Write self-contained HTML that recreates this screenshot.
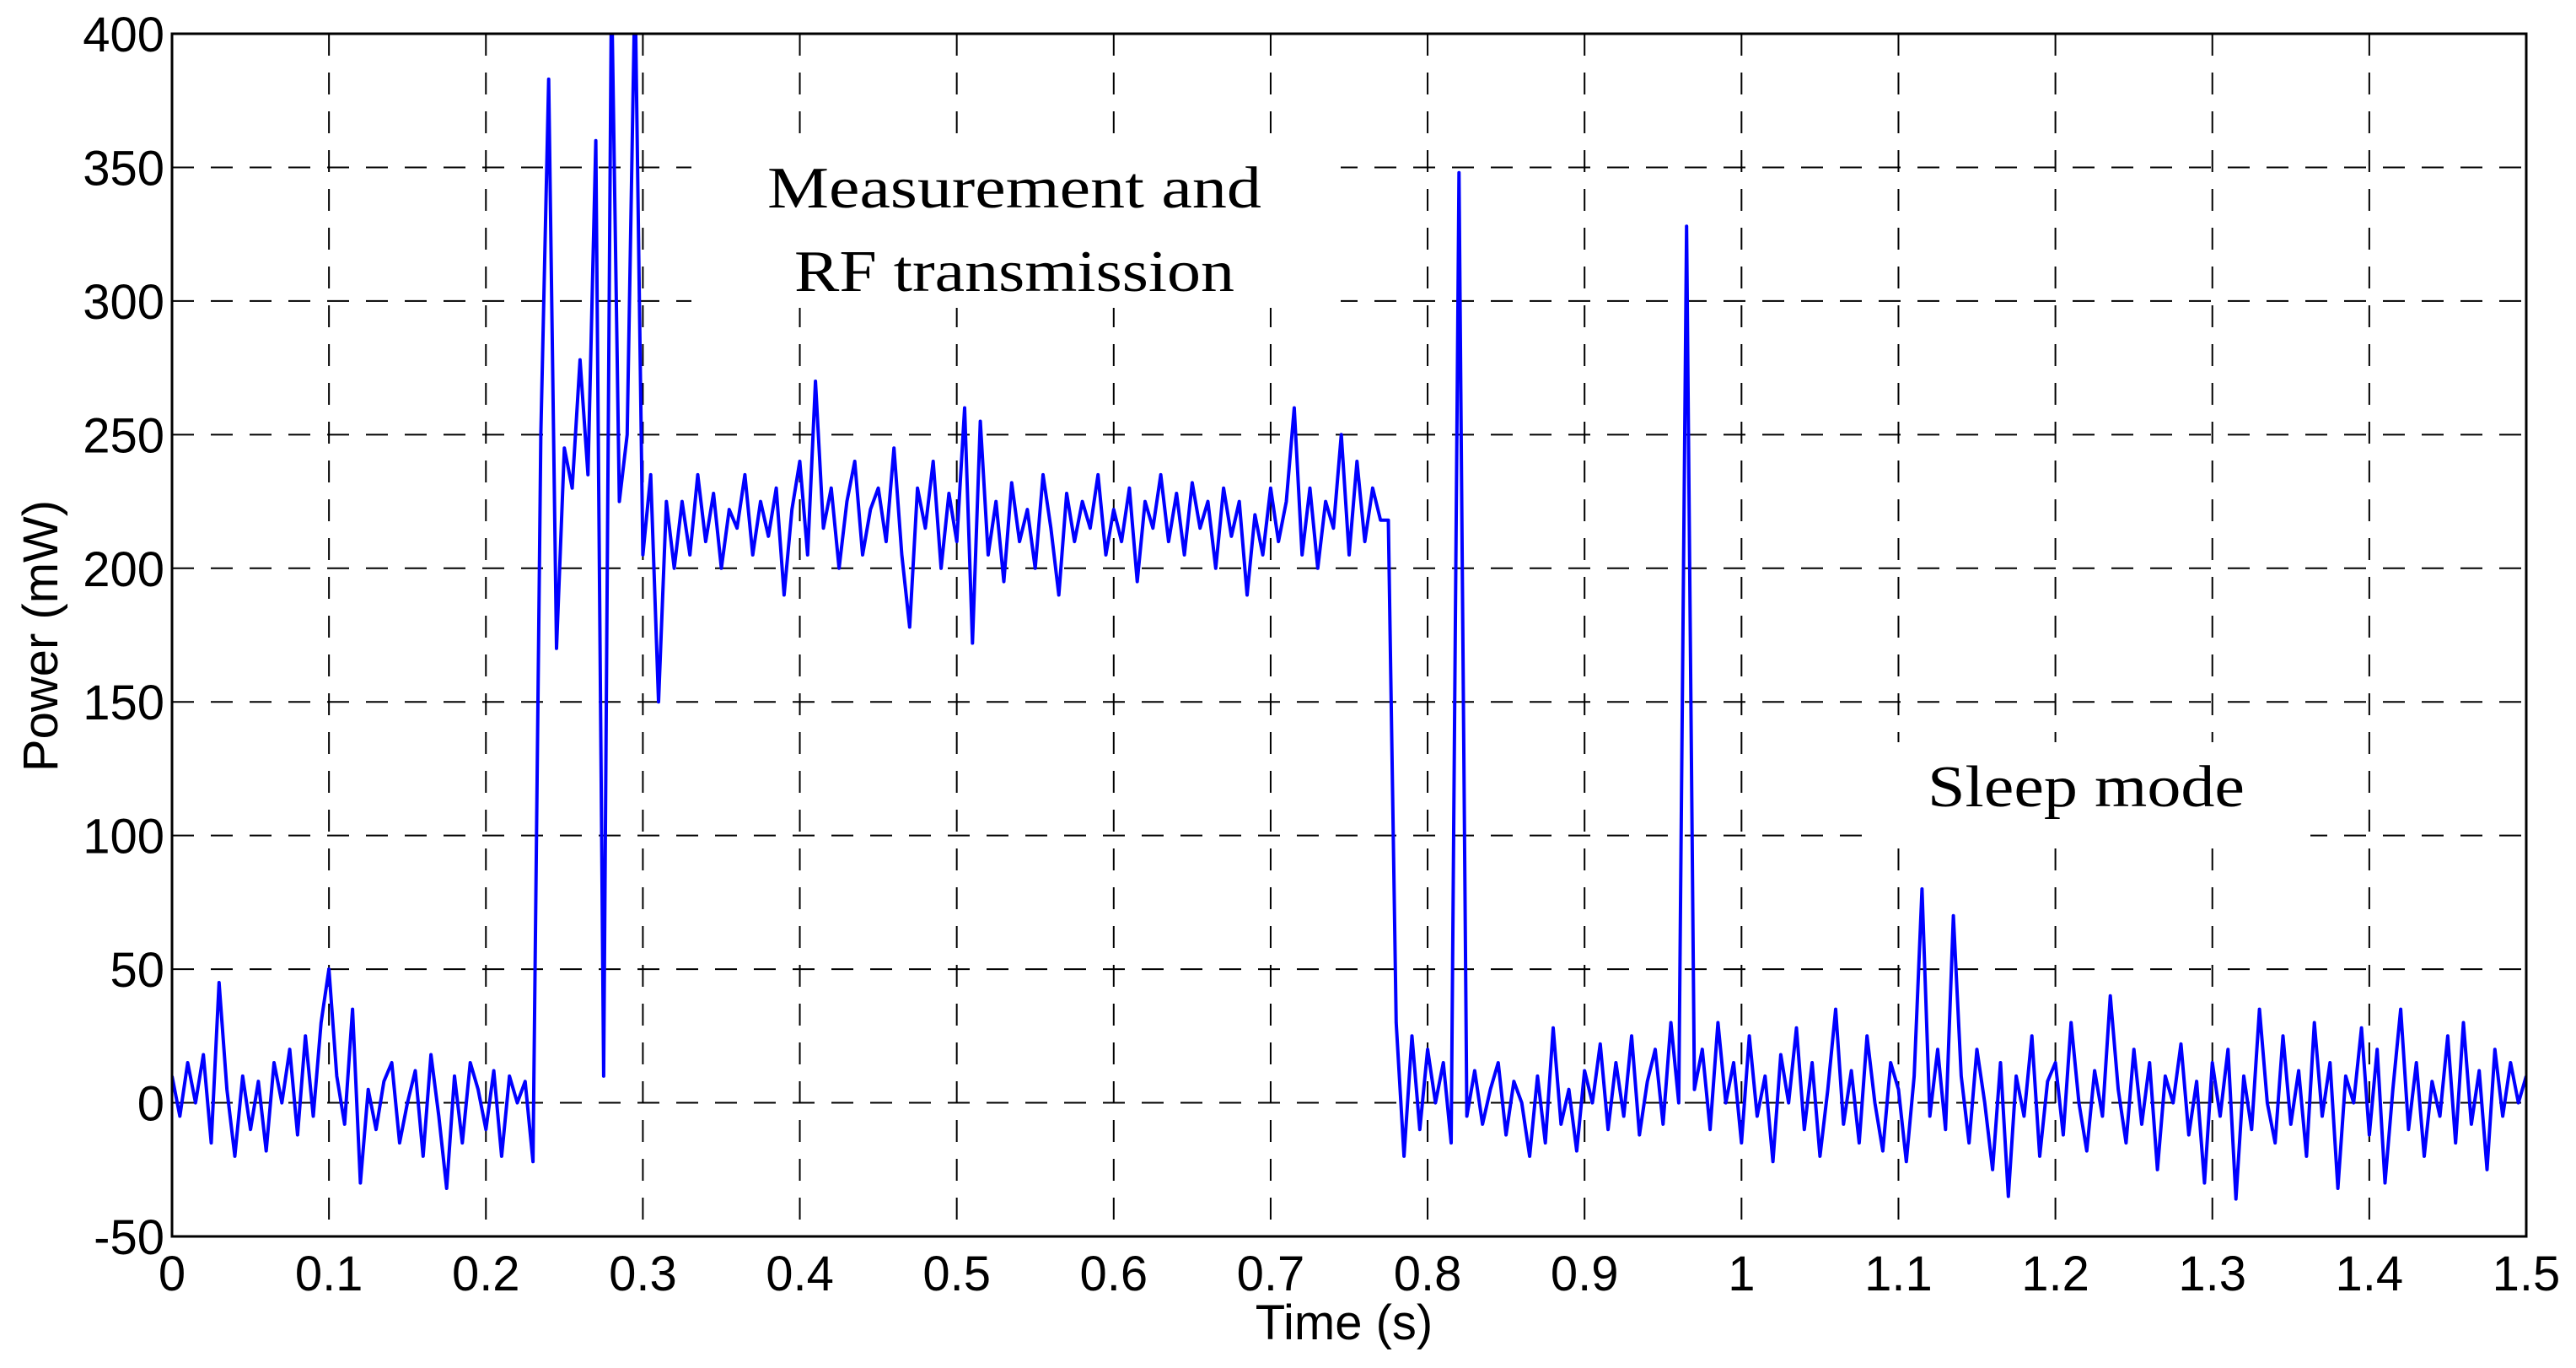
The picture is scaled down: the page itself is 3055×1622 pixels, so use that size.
<!DOCTYPE html>
<html><head><meta charset="utf-8"><style>html,body{margin:0;padding:0;background:#fff}svg{display:block}</style></head>
<body>
<svg id="chart" width="3055" height="1622" viewBox="0 0 3055 1622" xmlns="http://www.w3.org/2000/svg">
<defs><clipPath id="clip"><rect x="204" y="40" width="2792" height="1426"/></clipPath></defs>
<g id="grid"></g>
<g id="ticks"></g>
<rect x="820" y="175" width="770" height="190" fill="#fff"/>
<rect x="2220" y="880" width="520" height="115" fill="#fff"/>
<path id="line" fill="none" stroke="#0000ff" stroke-width="4" stroke-linejoin="round" clip-path="url(#clip)"/>
<rect x="204" y="40" width="2792" height="1426" fill="none" stroke="#000" stroke-width="3"/>
<g font-family="'Liberation Serif', serif" font-size="70" text-anchor="middle" fill="#000">
<text x="1203" y="246" textLength="586" lengthAdjust="spacingAndGlyphs">Measurement and</text>
<text x="1203" y="345" textLength="522" lengthAdjust="spacingAndGlyphs">RF transmission</text>
<text x="2474" y="956" textLength="376" lengthAdjust="spacingAndGlyphs">Sleep mode</text>
</g>
<g font-family="'Liberation Sans', sans-serif" font-size="58" fill="#000" text-anchor="middle">
<text x="1594" y="1588">Time (s)</text>
<text transform="translate(68,754) rotate(-90)">Power (mW)</text>
</g>
</svg>
<script>
const xTicks=[0,0.1,0.2,0.3,0.4,0.5,0.6,0.7,0.8,0.9,1,1.1,1.2,1.3,1.4,1.5];
const xTickLabels=["0","0.1","0.2","0.3","0.4","0.5","0.6","0.7","0.8","0.9","1","1.1","1.2","1.3","1.4","1.5"];
const yTicks=[-50,0,50,100,150,200,250,300,350,400];
const yTickLabels=["-50","0","50","100","150","200","250","300","350","400"];
const dt=0.005;
const power=[10,-5,15,0,18,-15,45,5,-20,10,-10,8,-18,15,0,20,-12,25,-5,30,50,10,-8,35,-30,5,-10,8,15,-15,0,12,-20,18,-5,-32,10,-15,15,5,-10,12,-20,10,0,8,-22,
250,383,170,245,230,278,235,360,10,420,225,250,420,205,235,150,225,200,
225,205,235,210,228,200,222,215,235,205,225,212,230,190,222,240,205,270,215,230,200,225,240,205,222,230,210,245,205,178,230,215,240,200,228,210,260,172,255,205,225,195,232,210,222,200,235,215,190,228,210,225,215,235,205,222,210,230,195,225,215,235,210,228,205,232,215,225,200,230,212,225,190,220,205,230,210,225,260,205,230,200,225,215,250,205,240,210,230,218,218,
30,-20,25,-10,20,0,15,-15,348,
-5,12,-8,5,15,-12,8,0,-20,10,-15,28,-8,5,-18,12,0,22,-10,15,-5,25,-12,8,20,-8,30,0,
328,
5,20,-10,30,0,15,-15,25,-5,10,-22,18,0,28,-10,15,-20,5,35,-8,12,-15,25,0,-18,15,5,-22,10,
80,-5,20,-10,70,10,
-15,20,0,-25,15,-35,10,-5,25,-20,8,15,-12,30,0,-18,12,-5,40,5,-15,20,-8,15,-25,10,0,22,-12,8,-30,15,-5,20,-36,10,-10,35,0,-15,25,-8,12,-20,30,-5,15,-32,10,0,28,-12,20,-30,5,35,-10,15,-20,8,-5,25,-15,30,-8,12,-25,20,-5,15,0,10];
const times=power.map((v,i)=>i*dt);
const L=204,R=2996,T=40,B=1466;
const xs=t=>L+(t-0)/1.5*(R-L);
const ys=v=>B-(v+50)/450*(B-T);
const NS="http://www.w3.org/2000/svg";
const grid=document.getElementById('grid'),ticks=document.getElementById('ticks');
function mk(tag,attrs,parent){const e=document.createElementNS(NS,tag);for(const k in attrs)e.setAttribute(k,attrs[k]);parent.appendChild(e);return e;}
xTicks.forEach((t,i)=>{
 const x=xs(t);
 if(i>0&&i<xTicks.length-1){const g=mk('line',{x1:x,x2:x,y1:T,y2:B,stroke:'#000','stroke-width':2,'stroke-dasharray':'26,20'},grid);
 
 }
 const tx=mk('text',{x:x,y:1530,'font-family':"'Liberation Sans', sans-serif",'font-size':58,'text-anchor':'middle'},ticks);
 tx.textContent=xTickLabels[i];
 
 
});
yTicks.forEach((v,i)=>{
 const y=ys(v);
 if(i>0&&i<yTicks.length-1){const g=mk('line',{x1:L,x2:R,y1:y,y2:y,stroke:'#000','stroke-width':2,'stroke-dasharray':'26,20'},grid);
 
 }
 const tx=mk('text',{x:195,y:y+21,'font-family':"'Liberation Sans', sans-serif",'font-size':58,'text-anchor':'end'},ticks);
 tx.textContent=yTickLabels[i];
 
 
});
document.getElementById('line').setAttribute('d',power.map((v,i)=>(i?'L':'M')+xs(times[i]).toFixed(1)+','+ys(v).toFixed(1)).join(''));
</script>
</body></html>
